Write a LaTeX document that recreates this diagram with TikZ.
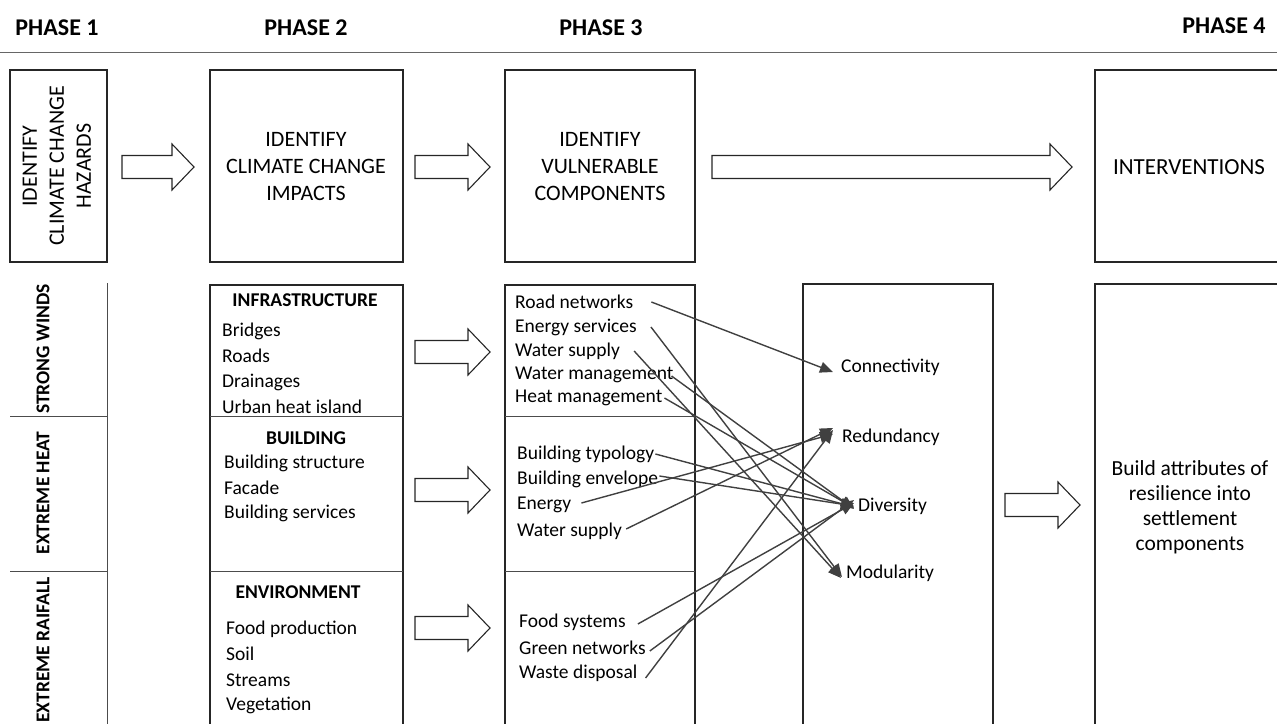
\documentclass[tikz,border=0pt]{standalone}
\usepackage{fontspec}
\setmainfont{Carlito}
\usetikzlibrary{arrows.meta}
\newcommand{\blkarrow}[4]{% name, x1, x2, y
  \draw[blkline] (#2,#4-11.5) -- (#3-22,#4-11.5) -- (#3-22,#4-23) -- (#3,#4)
    -- (#3-22,#4+23) -- (#3-22,#4+11.5) -- (#2,#4+11.5) -- cycle;
  \coordinate (#1) at ({(#2+#3)/2},#4);}
\begin{document}
\begin{tikzpicture}[x=1pt,y=-1pt,
  box/.style={draw=black!85, line width=1.3pt},
  sep/.style={draw=black!70, line width=1pt},
  blkline/.style={draw=black!85, line width=1.1pt, fill=white, line join=miter},
  hdr/.style={font=\fontsize{24}{28}\selectfont\bfseries, inner sep=0pt},
  big/.style={font=\fontsize{22}{27}\selectfont, align=center, inner sep=0pt},
  itm/.style={font=\fontsize{19.5}{25}\selectfont, anchor=west, inner sep=0pt},
  hd/.style={font=\fontsize{19.5}{25}\selectfont\bfseries, inner sep=0pt},
  haz/.style={font=\fontsize{19.5}{25}\selectfont\bfseries, rotate=90, inner sep=0pt},
  attr/.style={font=\fontsize{19.5}{25}\selectfont, anchor=west, inner sep=0pt},
  con/.style={draw=black!75, line width=1.4pt, -{Triangle[length=13pt,width=11pt]}}
]
\useasboundingbox (0,0) rectangle (1277,723);
% header
\node[hdr] (p1) at (57,28) {PHASE 1};
\node[hdr] (p2) at (306,28) {PHASE 2};
\node[hdr] (p3) at (601,28) {PHASE 3};
\node[hdr] (p4) at (1224,26) {PHASE 4};
\draw[draw=black!60, line width=1pt] (0,52) -- (1277,52);
% top boxes
\draw[box] (10,70) rectangle (107,262);
\node[big, rotate=90] (t1) at (57,166) {IDENTIFY\\CLIMATE CHANGE\\HAZARDS};
\draw[box] (210,70) rectangle (403,262);
\node[big] (t2) at (306,167) {IDENTIFY\\CLIMATE CHANGE\\IMPACTS};
\draw[box] (505,70) rectangle (695,262);
\node[big] (t3) at (600,167) {IDENTIFY\\VULNERABLE\\COMPONENTS};
\draw[box] (1095,70) rectangle (1290,262);
\node[big, font=\fontsize{23}{27}\selectfont] (t4) at (1189,167) {INTERVENTIONS};
% block arrows top
\blkarrow{a1}{122}{194}{167}
\blkarrow{a2}{415}{490}{167}
\blkarrow{a3}{712}{1072}{167}
% left hazard column
\draw[sep] (107,283) -- (107,730);
\draw[sep] (10,416) -- (107,416);
\draw[sep] (10,571) -- (107,571);
\node[haz] (h1) at (43,349) {STRONG WINDS};
\node[haz] (h2) at (43,493) {EXTREME HEAT};
\node[haz] (h3) at (43,650) {EXTREME RAIFALL};
% phase 2 lower box
\draw[box] (210,730) -- (210,285) -- (403,285) -- (403,730);
\draw[sep] (210,416) -- (403,416);
\draw[sep] (210,571) -- (403,571);
\node[hd] (infra) at (305,300) {INFRASTRUCTURE};
\node[itm] (i1) at (222,331) {Bridges};
\node[itm] (i2) at (222,356) {Roads};
\node[itm] (i3) at (222,382) {Drainages};
\node[itm] (i4) at (222,407) {Urban heat island};
\node[hd] (bld) at (306,438) {BUILDING};
\node[itm] (b1) at (224,463) {Building structure};
\node[itm] (b2) at (224,488) {Facade};
\node[itm] (b3) at (224,513) {Building services};
\node[hd] (env) at (298,592) {ENVIRONMENT};
\node[itm] (e1) at (226,629) {Food production};
\node[itm] (e2) at (226,654) {Soil};
\node[itm] (e3) at (226,680) {Streams};
\node[itm] (e4) at (226,705) {Vegetation};
% lower block arrows
\blkarrow{a4}{415}{490}{352}
\blkarrow{a5}{415}{490}{490}
\blkarrow{a6}{415}{490}{628}
\blkarrow{a7}{1005}{1080}{505}
% phase 3 lower box
\draw[box] (505,730) -- (505,285) -- (695,285) -- (695,730);
\draw[sep] (505,416) -- (695,416);
\draw[sep] (505,571) -- (695,571);
\node[itm] (c1) at (515,302) {Road networks};
\node[itm] (c2) at (515,327) {Energy services};
\node[itm] (c3) at (515,351) {Water supply};
\node[itm] (c4) at (515,375) {Water management};
\node[itm] (c5) at (515,398) {Heat management};
\node[itm] (c6) at (517,454) {Building typology};
\node[itm] (c7) at (517,479) {Building envelope};
\node[itm] (c8) at (517,505) {Energy};
\node[itm] (c9) at (517,531) {Water supply};
\node[itm] (c10) at (519,622) {Food systems};
\node[itm] (c11) at (519,648) {Green networks};
\node[itm] (c12) at (519,673) {Waste disposal};
% attribute box
\draw[box] (803,730) -- (803,284) -- (993,284) -- (993,730);
\node[attr] (conn) at (841,367) {Connectivity};
\node[attr] (red) at (842,437) {Redundancy};
\node[attr] (div) at (858,506) {Diversity};
\node[attr] (mod) at (846,573) {Modularity};
% phase 4 lower box
\draw[box] (1095,730) -- (1095,284) -- (1290,284);
\node[big, font=\fontsize{21.5}{25}\selectfont] (t5) at (1190,507) {Build attributes of\\resilience into\\settlement\\components};
% connectors
\draw[con] ([xshift=18pt]c1.east) -- ([shift={(-8pt,-5pt)}]conn.west);
\draw[con] ([xshift=14pt]c2.east) -- ([shift={(-4pt,-4pt)}]mod.west);
\draw[con] ([xshift=14pt]c3.east) -- ([shift={(-5pt,-5pt)}]mod.west);
\draw[con] ([xshift=-2pt,yshift=-1pt]c4.east) -- ([shift={(-4pt,-3pt)}]div.west);
\draw[con] ([xshift=2pt]c5.east) -- ([shift={(-4pt,-2pt)}]div.west);
\draw[con] ([xshift=1pt]c6.east) -- ([shift={(-4pt,-1pt)}]div.west);
\draw[con] ([xshift=1pt,yshift=3pt]c7.east) -- ([shift={(-4pt,0pt)}]div.west);
\draw[con] ([xshift=10pt,yshift=2pt]c8.east) -- ([shift={(-9pt,3pt)}]red.west);
\draw[con] ([xshift=4pt,yshift=2pt]c9.east) -- ([shift={(-9pt,9pt)}]red.west);
\draw[con] ([xshift=12pt,yshift=-2pt]c10.east) -- ([shift={(-4pt,3pt)}]div.west);
\draw[con] ([xshift=4pt,yshift=-3pt]c11.east) -- ([shift={(-4pt,6pt)}]div.west);
\draw[con] ([xshift=8pt,yshift=-5pt]c12.east) -- ([shift={(-9pt,7pt)}]red.west);
\end{tikzpicture}
\end{document}
